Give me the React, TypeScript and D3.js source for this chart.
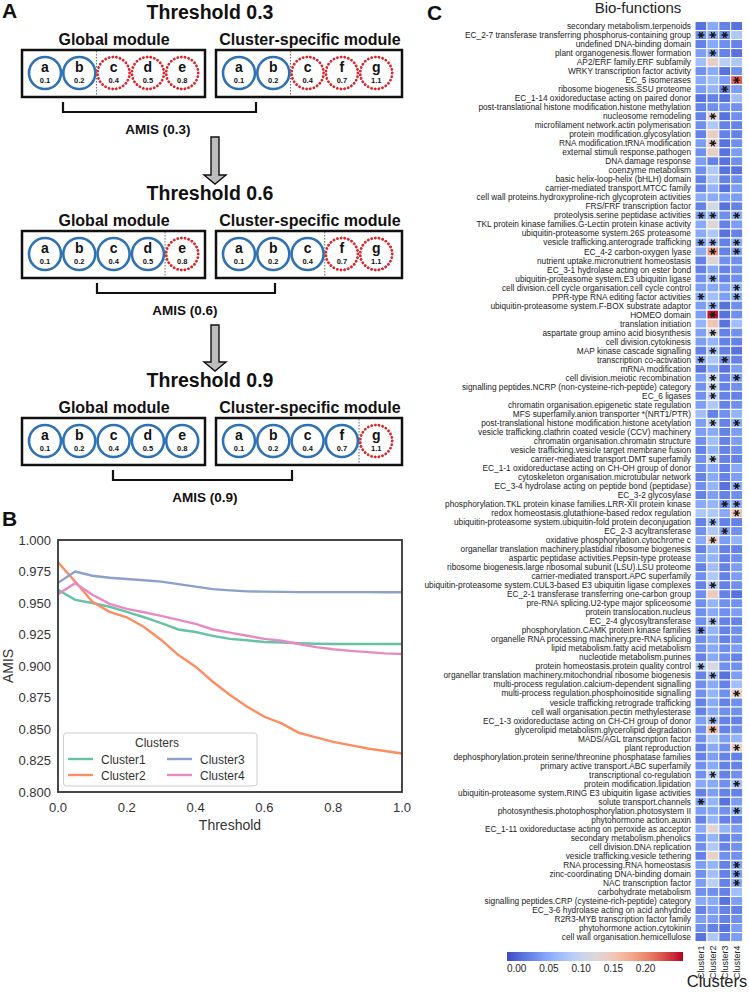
import React from "react";
import * as d3 from "d3";

// ---------- Panel B data ----------
const thresholds = [0, 0.05, 0.1, 0.15, 0.2, 0.25, 0.3, 0.35, 0.4, 0.45, 0.5, 0.55, 0.6, 0.65, 0.7, 0.75, 0.8, 0.85, 0.9, 0.95, 1.0];
const amisCluster1 = [0.9604, 0.9525, 0.950, 0.947, 0.943, 0.9387, 0.934, 0.929, 0.927, 0.9239, 0.9215, 0.9204, 0.919, 0.9186, 0.918, 0.9177, 0.9175, 0.9175, 0.9175, 0.9175, 0.9175];
const amisCluster2 = [0.9823, 0.967, 0.951, 0.943, 0.9387, 0.931, 0.9207, 0.9087, 0.8995, 0.8875, 0.877, 0.8677, 0.8597, 0.8544, 0.847, 0.8433, 0.8398, 0.8372, 0.8345, 0.8325, 0.8305];
const amisCluster3 = [0.966, 0.975, 0.9716, 0.970, 0.969, 0.968, 0.967, 0.965, 0.963, 0.961, 0.960, 0.9592, 0.959, 0.9588, 0.9586, 0.9586, 0.9586, 0.9586, 0.9586, 0.9585, 0.9585];
const amisCluster4 = [0.957, 0.9657, 0.9565, 0.9493, 0.9453, 0.9427, 0.9398, 0.9366, 0.9334, 0.929, 0.9265, 0.924, 0.9215, 0.920, 0.9175, 0.915, 0.9133, 0.912, 0.911, 0.910, 0.9095];
const clusterNames = ["Cluster1", "Cluster2", "Cluster3", "Cluster4"];
const clusterColors = ["#66c2a5", "#fc8d62", "#8da0cb", "#e78ac3"];
const amisTicks = [0.8, 0.825, 0.85, 0.875, 0.9, 0.925, 0.95, 0.975, 1.0];
const thresholdTicks = [0, 0.2, 0.4, 0.6, 0.8, 1.0];

// ---------- Panel A data ----------
const globalItems = ["a", "b", "c", "d", "e"];
const globalValues = ["0.1", "0.2", "0.4", "0.5", "0.8"];
const specificItems = ["a", "b", "c", "f", "g"];
const specificValues = ["0.1", "0.2", "0.4", "0.7", "1.1"];
const thresholdLevels = ["0.3", "0.6", "0.9"];
const globalKept = [2, 4, 5];
const specificKept = [2, 3, 4];

// ---------- Panel C data ----------
const bioFunctions = [
  "secondary metabolism.terpenoids",
  "EC_2-7 transferase transferring phosphorus-containing group",
  "undefined DNA-binding domain",
  "plant organogenesis.flower formation",
  "AP2/ERF family.ERF subfamily",
  "WRKY transcription factor activity",
  "EC_5 isomerases",
  "ribosome biogenesis.SSU proteome",
  "EC_1-14 oxidoreductase acting on paired donor",
  "post-translational histone modification.histone methylation",
  "nucleosome remodeling",
  "microfilament network.actin polymerisation",
  "protein modification.glycosylation",
  "RNA modification.tRNA modification",
  "external stimuli response.pathogen",
  "DNA damage response",
  "coenzyme metabolism",
  "basic helix-loop-helix (bHLH) domain",
  "carrier-mediated transport.MTCC family",
  "cell wall proteins.hydroxyproline-rich glycoprotein activities",
  "FRS/FRF transcription factor",
  "proteolysis.serine peptidase activities",
  "TKL protein kinase families.G-Lectin protein kinase activity",
  "ubiquitin-proteasome system.26S proteasome",
  "vesicle trafficking.anterograde trafficking",
  "EC_4-2 carbon-oxygen lyase",
  "nutrient uptake.micronutrient homeostasis",
  "EC_3-1 hydrolase acting on ester bond",
  "ubiquitin-proteasome system.E3 ubiquitin ligase",
  "cell division.cell cycle organisation.cell cycle control",
  "PPR-type RNA editing factor activities",
  "ubiquitin-proteasome system.F-BOX substrate adaptor",
  "HOMEO domain",
  "translation initiation",
  "aspartate group amino acid biosynthesis",
  "cell division.cytokinesis",
  "MAP kinase cascade signalling",
  "transcription co-activation",
  "mRNA modification",
  "cell division.meiotic recombination",
  "signalling peptides.NCRP (non-cysteine-rich-peptide) category",
  "EC_6 ligases",
  "chromatin organisation.epigenetic state regulation",
  "MFS superfamily.anion transporter *(NRT1/PTR)",
  "post-translational histone modification.histone acetylation",
  "vesicle trafficking.clathrin coated vesicle (CCV) machinery",
  "chromatin organisation.chromatin structure",
  "vesicle trafficking.vesicle target membrane fusion",
  "carrier-mediated transport.DMT superfamily",
  "EC_1-1 oxidoreductase acting on CH-OH group of donor",
  "cytoskeleton organisation.microtubular network",
  "EC_3-4 hydrolase acting on peptide bond (peptidase)",
  "EC_3-2 glycosylase",
  "phosphorylation.TKL protein kinase families.LRR-XII protein kinase",
  "redox homeostasis.glutathione-based redox regulation",
  "ubiquitin-proteasome system.ubiquitin-fold protein deconjugation",
  "EC_2-3 acyltransferase",
  "oxidative phosphorylation.cytochrome c",
  "organellar translation machinery.plastidial ribosome biogenesis",
  "aspartic peptidase activities.Pepsin-type protease",
  "ribosome biogenesis.large ribosomal subunit (LSU).LSU proteome",
  "carrier-mediated transport.APC superfamily",
  "ubiquitin-proteasome system.CUL3-based E3 ubiquitin ligase complexes",
  "EC_2-1 transferase transferring one-carbon group",
  "pre-RNA splicing.U2-type major spliceosome",
  "protein translocation.nucleus",
  "EC_2-4 glycosyltransferase",
  "phosphorylation.CAMK protein kinase families",
  "organelle RNA processing machinery.pre-RNA splicing",
  "lipid metabolism.fatty acid metabolism",
  "nucleotide metabolism.purines",
  "protein homeostasis.protein quality control",
  "organellar translation machinery.mitochondrial ribosome biogenesis",
  "multi-process regulation.calcium-dependent signalling",
  "multi-process regulation.phosphoinositide signalling",
  "vesicle trafficking.retrograde trafficking",
  "cell wall organisation.pectin methylesterase",
  "EC_1-3 oxidoreductase acting on CH-CH group of donor",
  "glycerolipid metabolism.glycerolipid degradation",
  "MADS/AGL transcription factor",
  "plant reproduction",
  "dephosphorylation.protein serine/threonine phosphatase families",
  "primary active transport.ABC superfamily",
  "transcriptional co-regulation",
  "protein modification.lipidation",
  "ubiquitin-proteasome system.RING E3 ubiquitin ligase activities",
  "solute transport.channels",
  "photosynthesis.photophosphorylation.photosystem II",
  "phytohormone action.auxin",
  "EC_1-11 oxidoreductase acting on peroxide as acceptor",
  "secondary metabolism.phenolics",
  "cell division.DNA replication",
  "vesicle trafficking.vesicle tethering",
  "RNA processing.RNA homeostasis",
  "zinc-coordinating DNA-binding domain",
  "NAC transcription factor",
  "carbohydrate metabolism",
  "signalling peptides.CRP (cysteine-rich-peptide) category",
  "EC_3-6 hydrolase acting on acid anhydride",
  "R2R3-MYB transcription factor family",
  "phytohormone action.cytokinin",
  "cell wall organisation.hemicellulose",
];

const heatCluster1 = [
  0.01, 0.03, 0.02, 0.04, 0.07, 0.03, 0.05, 0.04, 0.01, 0.02,
  0.02, 0.03, 0.02, 0.04, 0.03, 0.04, 0.03, 0.02, 0.02, 0.05,
  0.02, 0.04, 0.05, 0.05, 0.04, 0.05, 0.02, 0.02, 0.03, 0.04,
  0.05, 0.04, 0.04, 0.06, 0.04, 0.04, 0.02, 0.05, 0.01, 0.04,
  0.03, 0.03, 0.04, 0.07, 0.04, 0.04, 0.03, 0.02, 0.03, 0.03,
  0.02, 0.03, 0.02, 0.05, 0.08, 0.02, 0.03, 0.05, 0.02, 0.04,
  0.02, 0.03, 0.02, 0.03, 0.03, 0.03, 0.03, 0.03, 0.03, 0.03,
  0.02, 0.08, 0.02, 0.03, 0.03, 0.02, 0.02, 0.04, 0.03, 0.03,
  0.02, 0.02, 0.03, 0.03, 0.05, 0.02, 0.04, 0.04, 0.02, 0.05,
  0.03, 0.03, 0.02, 0.04, 0.03, 0.04, 0.03, 0.05, 0.02, 0.04,
  0.03, 0.01,
];
const heatCluster2 = [
  0.05, 0.05, 0.05, 0.05, 0.14, 0.05, 0.07, 0.06, 0.02, 0.03,
  0.13, 0.08, 0.14, 0.14, 0.14, 0.02, 0.08, 0.08, 0.06, 0.05,
  0.11, 0.06, 0.125, 0.08, 0.07, 0.19, 0.125, 0.05, 0.06, 0.05,
  0.07, 0.06, 0.25, 0.15, 0.12, 0.06, 0.07, 0.08, 0.05, 0.10,
  0.10, 0.09, 0.08, 0.02, 0.09, 0.05, 0.07, 0.06, 0.09, 0.05,
  0.05, 0.06, 0.04, 0.06, 0.08, 0.07, 0.08, 0.14, 0.06, 0.06,
  0.07, 0.08, 0.08, 0.145, 0.06, 0.05, 0.07, 0.06, 0.05, 0.05,
  0.05, 0.115, 0.07, 0.05, 0.06, 0.05, 0.05, 0.06, 0.165, 0.08,
  0.05, 0.04, 0.05, 0.09, 0.05, 0.04, 0.06, 0.05, 0.06, 0.13,
  0.06, 0.08, 0.135, 0.06, 0.07, 0.09, 0.03, 0.05, 0.04, 0.04,
  0.02, 0.08,
];
const heatCluster3 = [
  0.02, 0.03, 0.03, 0.02, 0.09, 0.01, 0.04, 0.02, 0.01, 0.03,
  0.01, 0.02, 0.02, 0.01, 0.01, 0.01, 0.01, 0.02, 0.01, 0.04,
  0.01, 0.03, 0.02, 0.01, 0.02, 0.02, 0.03, 0.02, 0.02, 0.04,
  0.04, 0.01, 0.01, 0.01, 0.02, 0.02, 0.02, 0.03, 0.01, 0.02,
  0.02, 0.02, 0.02, 0.03, 0.02, 0.02, 0.02, 0.02, 0.02, 0.02,
  0.02, 0.01, 0.02, 0.03, 0.05, 0.02, 0.04, 0.04, 0.02, 0.02,
  0.02, 0.02, 0.02, 0.02, 0.03, 0.03, 0.02, 0.02, 0.02, 0.03,
  0.03, 0.03, 0.01, 0.02, 0.03, 0.02, 0.03, 0.02, 0.02, 0.04,
  0.03, 0.02, 0.02, 0.02, 0.03, 0.02, 0.01, 0.03, 0.02, 0.06,
  0.02, 0.02, 0.03, 0.02, 0.02, 0.02, 0.02, 0.01, 0.02, 0.02,
  0.01, 0.02,
];
const heatCluster4 = [
  0.01, 0.08, 0.02, 0.01, 0.08, 0.03, 0.22, 0.04, 0.07, 0.03,
  0.03, 0.02, 0.02, 0.03, 0.04, 0.03, 0.01, 0.03, 0.04, 0.04,
  0.02, 0.05, 0.04, 0.02, 0.05, 0.04, 0.03, 0.03, 0.03, 0.06,
  0.05, 0.03, 0.03, 0.07, 0.03, 0.02, 0.01, 0.02, 0.04, 0.04,
  0.03, 0.02, 0.03, 0.06, 0.05, 0.04, 0.04, 0.03, 0.02, 0.05,
  0.04, 0.05, 0.03, 0.05, 0.15, 0.02, 0.03, 0.06, 0.02, 0.03,
  0.04, 0.04, 0.03, 0.01, 0.03, 0.04, 0.02, 0.03, 0.03, 0.04,
  0.02, 0.03, 0.04, 0.07, 0.145, 0.03, 0.03, 0.02, 0.03, 0.06,
  0.14, 0.02, 0.02, 0.03, 0.07, 0.02, 0.04, 0.05, 0.02, 0.04,
  0.03, 0.03, 0.03, 0.04, 0.04, 0.05, 0.07, 0.04, 0.02, 0.03,
  0.04, 0.04,
];
// significance marks per row: one char per cluster ("1" = asterisk)
const significance = [
  "0000", "1110", "0000", "0100", "0000", "0000", "0001", "0010", "0000", "0000",
  "0100", "0000", "0000", "0100", "0000", "0000", "0000", "0000", "0000", "0000",
  "0000", "1101", "0000", "0000", "1101", "0101", "0000", "0000", "0100", "0001",
  "1001", "0100", "0100", "0000", "0100", "0000", "0100", "1010", "0000", "0101",
  "0100", "0100", "0000", "0000", "0101", "0000", "0000", "0000", "0100", "0000",
  "0000", "0001", "0000", "0011", "0001", "0100", "0010", "0100", "0000", "0000",
  "0000", "0000", "0100", "0000", "0000", "0000", "0100", "1000", "0000", "0000",
  "0000", "1000", "0100", "0000", "0001", "0000", "0000", "0100", "0100", "0000",
  "0001", "0000", "0000", "0100", "0001", "0000", "1000", "0001", "0000", "0000",
  "0000", "0000", "0000", "0001", "0001", "0001", "0000", "0000", "0000", "0000",
  "0000", "0000",
];
const colorbarTicks = [0, 0.05, 0.1, 0.15, 0.2];

const coolwarmStops = ["#3b4cc0", "#6282ea", "#8db0fe", "#b8d0f9", "#dddddd", "#f5c4ad", "#f49a7b", "#de604d", "#b40426"];

const FONT = "'Liberation Sans', Arial, Helvetica, sans-serif";

function PanelA() {
  const tops = [0, 181, 368];
  const boxG = { x0: 22, x1: 205 };
  const boxS = { x0: 216, x1: 402 };
  const step = 34.3;
  const cG = 45;
  const cS = 239;
  const brackets = [
    { x0: 63, x1: 256, tx: 158 },
    { x0: 97, x1: 275, tx: 185 },
    { x0: 113, x1: 292, tx: 205 },
  ];
  const circle = (cx: number, cy: number, letter: string, val: string, kept: boolean, key: string) => (
    <g key={key}>
      <circle cx={cx} cy={cy} r={16} fill="white"
        stroke={kept ? "#2f72b4" : "#d9262b"}
        strokeWidth={kept ? 2.6 : 2.8}
        strokeDasharray={kept ? undefined : "0.1 3.6"}
        strokeLinecap={kept ? "butt" : "round"} />
      <text x={cx} y={cy - 1} textAnchor="middle" fontSize={14} fontWeight="bold" fill="#111">{letter}</text>
      <text x={cx} y={cy + 10} textAnchor="middle" fontSize={7.5} fontWeight="bold" fill="#111">{val}</text>
    </g>
  );
  return (
    <g fontFamily={FONT}>
      <text x={2} y={18} fontSize={21} fontWeight="bold" fill="#111">A</text>
      {thresholdLevels.map((lvl, i) => {
        const T = tops[i];
        const cy = T + 73;
        const gk = globalKept[i];
        const sk = specificKept[i];
        const b = brackets[i];
        return (
          <g key={lvl}>
            <text x={210} y={T + 19} textAnchor="middle" fontSize={19.5} fontWeight="bold" fill="#111">{`Threshold ${lvl}`}</text>
            <text x={114} y={T + 45} textAnchor="middle" fontSize={16} fontWeight="bold" fill="#111">Global module</text>
            <text x={310} y={T + 45} textAnchor="middle" fontSize={16} fontWeight="bold" fill="#111">Cluster-specific module</text>
            <rect x={boxG.x0} y={T + 50} width={boxG.x1 - boxG.x0} height={47} fill="white" stroke="#111" strokeWidth={2.5} />
            <rect x={boxS.x0} y={T + 50} width={boxS.x1 - boxS.x0} height={47} fill="white" stroke="#111" strokeWidth={2.5} />
            {globalItems.map((l, j) => circle(cG + j * step, cy, l, globalValues[j], j < gk, `g${j}`))}
            {specificItems.map((l, j) => circle(cS + j * step, cy, l, specificValues[j], j < sk, `s${j}`))}
            {gk < globalItems.length && (
              <line x1={cG + (gk - 0.5) * step} x2={cG + (gk - 0.5) * step} y1={T + 51} y2={T + 96} stroke="#666" strokeWidth={1} strokeDasharray="1.5 1.5" />
            )}
            {sk < specificItems.length && (
              <line x1={cS + (sk - 0.5) * step} x2={cS + (sk - 0.5) * step} y1={T + 51} y2={T + 96} stroke="#666" strokeWidth={1} strokeDasharray="1.5 1.5" />
            )}
            <path d={`M${b.x0},${T + 102} V${T + 112} H${b.x1} V${T + 102}`} fill="none" stroke="#111" strokeWidth={2.2} />
            <text x={b.tx} y={T + 134} textAnchor="middle" fontSize={13.5} fontWeight="bold" fill="#111">{`AMIS (${lvl})`}</text>
          </g>
        );
      })}
      {[{ y0: 137, y1: 184 }, { y0: 325, y1: 371 }].map((a, i) => (
        <path key={i}
          d={`M211,${a.y0} H219 V${a.y1 - 9} H226 L215,${a.y1} L204,${a.y1 - 9} H211 Z`}
          fill="#bdbdbd" stroke="#111" strokeWidth={1.4} />
      ))}
    </g>
  );
}

function PanelB() {
  const left = 58, right = 402, top = 540, bottom = 792;
  const x = d3.scaleLinear().domain([0, 1]).range([left, right]);
  const y = d3.scaleLinear().domain([0.8, 1.0]).range([bottom, top]);
  const series = [amisCluster1, amisCluster2, amisCluster3, amisCluster4];
  const line = d3.line<number>().x((_, i) => x(thresholds[i])).y((d) => y(d));
  return (
    <g fontFamily={FONT}>
      <text x={2} y={526} fontSize={21} fontWeight="bold" fill="#111">B</text>
      <defs>
        <clipPath id="plotclip"><rect x={left} y={top} width={right - left} height={bottom - top} /></clipPath>
      </defs>
      <g clipPath="url(#plotclip)">
        {series.map((s, i) => (
          <path key={i} d={line(s) || ""} fill="none" stroke={clusterColors[i]} strokeWidth={2.4} />
        ))}
      </g>
      <rect x={left} y={top} width={right - left} height={bottom - top} fill="none" stroke="#333" strokeWidth={1.8} />
      {amisTicks.map((t) => (
        <text key={t} x={left - 7} y={y(t) + 4.5} textAnchor="end" fontSize={13} fill="#333">{d3.format(".3f")(t)}</text>
      ))}
      {thresholdTicks.map((t) => (
        <text key={t} x={x(t)} y={bottom + 20} textAnchor="middle" fontSize={13} fill="#333">{d3.format(".1f")(t)}</text>
      ))}
      <text x={x(0.5)} y={bottom + 38} textAnchor="middle" fontSize={14} fill="#333">Threshold</text>
      <text transform={`translate(13, ${(top + bottom) / 2}) rotate(-90)`} textAnchor="middle" fontSize={14} fill="#333">AMIS</text>
      <g>
        <rect x={63.5} y={733} width={193.5} height={53} rx={3} fill="white" stroke="#ccc" strokeWidth={1} />
        <text x={157} y={747} textAnchor="middle" fontSize={12} fill="#333">Clusters</text>
        {clusterNames.map((n, i) => {
          const col = i === 0 || i === 1 ? 0 : 1;
          const row = i === 0 || i === 2 ? 0 : 1;
          const sx = col === 0 ? 68 : 167;
          const sy = row === 0 ? 759 : 775;
          return (
            <g key={n}>
              <line x1={sx} x2={sx + 25} y1={sy} y2={sy} stroke={clusterColors[i]} strokeWidth={2.4} />
              <text x={sx + 33} y={sy + 4.5} fontSize={12} fill="#333">{n}</text>
            </g>
          );
        })}
      </g>
    </g>
  );
}

function PanelC() {
  const x0 = 695, cellW = 11.9;
  const top = 21.5, rowH = 9.02;
  const cols = [heatCluster1, heatCluster2, heatCluster3, heatCluster4];
  const colorDomain: [number, number] = [-0.015, 0.258];
  const interp = d3.interpolateRgbBasis(coolwarmStops);
  const color = d3.scaleSequential(interp).domain(colorDomain);
  const xBand = d3.scaleBand<number>().domain([0, 1, 2, 3]).range([x0, x0 + 4 * cellW]);
  const yBand = d3.scaleBand<number>().domain(d3.range(bioFunctions.length)).range([top, top + bioFunctions.length * rowH]);
  const cbX = d3.scaleLinear().domain(colorDomain).range([507, 683]);
  const stops = d3.range(0, 1.0001, 0.05);
  const asterisk = d3.symbol().type(d3.symbolAsterisk).size(22)() || "";
  return (
    <g fontFamily={FONT}>
      <text x={427} y={20} fontSize={21} fontWeight="bold" fill="#111">C</text>
      <text x={638} y={13} textAnchor="middle" fontSize={15} fill="#222">Bio-functions</text>
      {bioFunctions.map((label, r) => (
        <text key={r} x={x0 - 4} y={(yBand(r) as number) + rowH / 2 + 3} textAnchor="end" fontSize={8.3} fill="#222">{label}</text>
      ))}
      {cols.map((vals, c) => vals.map((v, r) => (
        <rect key={`${c}-${r}`} x={xBand(c)} y={yBand(r)} width={xBand.bandwidth()} height={yBand.bandwidth()}
          fill={color(v)} stroke="white" strokeWidth={1} />
      )))}
      {significance.map((s, r) => s.split("").map((ch, c) => ch === "1" ? (
        <path key={`s${c}-${r}`} d={asterisk}
          transform={`translate(${(xBand(c) as number) + cellW / 2}, ${(yBand(r) as number) + rowH / 2}) rotate(90)`}
          fill="none" stroke="#1a1a1a" strokeWidth={1.4} strokeLinecap="round" />
      ) : null))}
      {clusterNames.map((n, c) => (
        <text key={n} transform={`translate(${(xBand(c) as number) + cellW / 2 + 3.5}, ${top + bioFunctions.length * rowH + 4}) rotate(-90)`}
          textAnchor="end" fontSize={9} fill="#222">{n}</text>
      ))}
      <text x={717} y={987} textAnchor="middle" fontSize={16.5} fill="#222">Clusters</text>
      <defs>
        <linearGradient id="cbgrad" x1="0" x2="1" y1="0" y2="0">
          {stops.map((t) => (
            <stop key={t} offset={`${t * 100}%`} stopColor={interp(t)} />
          ))}
        </linearGradient>
      </defs>
      <rect x={507} y={952} width={176} height={9} fill="url(#cbgrad)" />
      {colorbarTicks.map((t) => (
        <text key={t} x={cbX(t)} y={972} textAnchor="middle" fontSize={10} fill="#222">{d3.format(".2f")(t)}</text>
      ))}
    </g>
  );
}

export default function App() {
  return (
    <svg width={749} height={992} style={{ position: "absolute", left: 0, top: 0, background: "white" }}>
      <rect x={0} y={0} width={749} height={992} fill="white" />
      <PanelA />
      <PanelB />
      <PanelC />
    </svg>
  );
}
